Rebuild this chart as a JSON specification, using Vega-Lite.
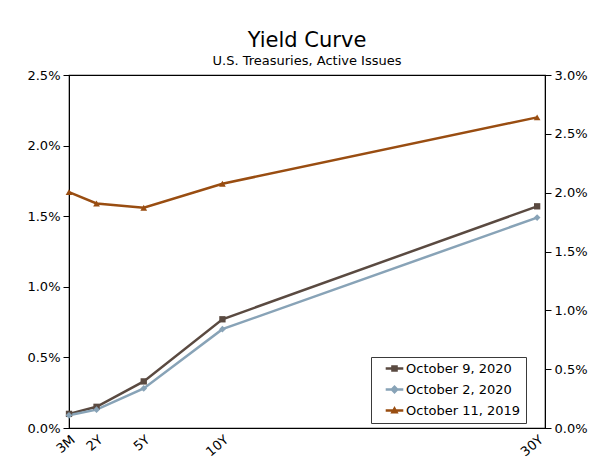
{
  "$schema": "https://vega.github.io/schema/vega-lite/v6.json",
  "autosize": "none",
  "padding": {"left": 69, "top": 75, "right": 55, "bottom": 38},
  "width": 476,
  "height": 353,
  "title": {
    "text": "Yield Curve",
    "subtitle": "U.S. Treasuries, Active Issues",
    "anchor": "middle",
    "font": "DejaVu Sans",
    "fontSize": 21,
    "fontWeight": "normal",
    "color": "#000000",
    "subtitleFont": "DejaVu Sans",
    "subtitleFontSize": 13,
    "subtitleColor": "#000000",
    "subtitlePadding": 4,
    "offset": 1
  },
  "config": {
    "font": "DejaVu Sans",
    "view": {"stroke": "#000000", "strokeWidth": 1.2},
    "axis": {
      "grid": false,
      "domainColor": "#000000",
      "tickColor": "#000000",
      "labelColor": "#000000",
      "labelFont": "DejaVu Sans",
      "labelFontSize": 13,
      "tickSize": 6,
      "title": null
    },
    "legend": {"labelFont": "DejaVu Sans", "labelFontSize": 13, "labelColor": "#000000"}
  },
  "datasets": {
    "yields": [
      {"date": "October 9, 2020", "term": "3M", "years": 0.25, "yield": 0.0010},
      {"date": "October 9, 2020", "term": "2Y", "years": 2, "yield": 0.0015},
      {"date": "October 9, 2020", "term": "5Y", "years": 5, "yield": 0.0033},
      {"date": "October 9, 2020", "term": "10Y", "years": 10, "yield": 0.0077},
      {"date": "October 9, 2020", "term": "30Y", "years": 30, "yield": 0.0157},
      {"date": "October 2, 2020", "term": "3M", "years": 0.25, "yield": 0.0009},
      {"date": "October 2, 2020", "term": "2Y", "years": 2, "yield": 0.0013},
      {"date": "October 2, 2020", "term": "5Y", "years": 5, "yield": 0.0028},
      {"date": "October 2, 2020", "term": "10Y", "years": 10, "yield": 0.0070},
      {"date": "October 2, 2020", "term": "30Y", "years": 30, "yield": 0.0149},
      {"date": "October 11, 2019", "term": "3M", "years": 0.25, "yield": 0.0167},
      {"date": "October 11, 2019", "term": "2Y", "years": 2, "yield": 0.0159},
      {"date": "October 11, 2019", "term": "5Y", "years": 5, "yield": 0.0156},
      {"date": "October 11, 2019", "term": "10Y", "years": 10, "yield": 0.0173},
      {"date": "October 11, 2019", "term": "30Y", "years": 30, "yield": 0.0220}
    ],
    "rightAxis": [{"r": 0}, {"r": 0.03}]
  },
  "layer": [
    {
      "data": {"name": "yields"},
      "encoding": {
        "x": {
          "field": "years",
          "type": "quantitative",
          "scale": {"domain": [0.25, 30.5], "nice": false, "zero": false},
          "axis": {
            "values": [0.25, 2, 5, 10, 30],
            "labelExpr": "datum.value == 0.25 ? '3M' : datum.value + 'Y'",
            "labelAngle": -40,
            "labelAlign": "right",
            "labelBaseline": "top",
            "labelPadding": 5,
            "ticks": false,
            "domain": false
          }
        },
        "y": {
          "field": "yield",
          "type": "quantitative",
          "scale": {"domain": [0, 0.025], "nice": false},
          "axis": {"values": [0, 0.005, 0.01, 0.015, 0.02, 0.025], "format": ".1%", "labelPadding": 3}
        },
        "color": {
          "field": "date",
          "type": "nominal",
          "scale": {
            "domain": ["October 9, 2020", "October 2, 2020", "October 11, 2019"],
            "range": ["#5a4a41", "#88a3b7", "#994d11"]
          },
          "legend": {
            "title": null,
            "orient": "none",
            "legendX": 302,
            "legendY": 282,
            "strokeColor": "#3a3a3a",
            "fillColor": "#ffffff",
            "padding": 5,
            "rowPadding": 7,
            "symbolOffset": 12,
            "labelOffset": 5,
            "symbolSize": 121,
            "symbolStrokeWidth": 0,
            "symbolOpacity": 1,
            "labelExpr": "datum.label + '\u00a0\u00a0\u00a0\u00a0'",
            "encode": {"symbols": {"update": {"fill": {"scale": "color", "field": "value"}, "opacity": {"value": 1}}}}
          }
        }
      },
      "layer": [
        {"mark": {"type": "line", "strokeWidth": 2.5}},
        {
          "transform": [{"filter": "datum.date == 'October 9, 2020'"}],
          "mark": {"type": "point", "filled": true, "opacity": 1, "size": 40, "shape": "square"}
        },
        {
          "transform": [{"filter": "datum.date == 'October 2, 2020'"}],
          "mark": {"type": "point", "filled": true, "opacity": 1, "size": 45, "shape": "diamond"}
        },
        {
          "transform": [{"filter": "datum.date == 'October 11, 2019'"}],
          "mark": {"type": "point", "filled": true, "opacity": 1, "size": 45, "shape": "triangle-up"}
        },
        {
          "mark": {"type": "point", "filled": true, "opacity": 0},
          "encoding": {
            "shape": {
              "field": "date",
              "type": "nominal",
              "scale": {
                "domain": ["October 9, 2020", "October 2, 2020", "October 11, 2019"],
                "range": [
                  "M-1.6,-0.22H1.6V0.22H-1.6Z M-0.6,-0.6H0.6V0.6H-0.6Z",
                  "M-1.6,-0.22H1.6V0.22H-1.6Z M0,-0.8L0.8,0L0,0.8L-0.8,0Z",
                  "M-1.6,-0.22H1.6V0.22H-1.6Z M0,-0.8L0.75,0.55H-0.75Z"
                ]
              },
              "legend": {
                "title": null,
                "orient": "none",
                "legendX": 302,
                "legendY": 282,
                "strokeColor": "#3a3a3a",
                "fillColor": "#ffffff",
                "padding": 5,
                "rowPadding": 7,
                "symbolOffset": 12,
                "labelOffset": 5,
                "symbolSize": 121,
                "symbolStrokeWidth": 0,
                "symbolOpacity": 1,
                "labelExpr": "datum.label + '\u00a0\u00a0\u00a0\u00a0'",
                "encode": {"symbols": {"update": {"fill": {"scale": "color", "field": "value"}, "opacity": {"value": 1}}}}
              }
            }
          }
        }
      ]
    },
    {
      "data": {"name": "rightAxis"},
      "mark": {"type": "point", "opacity": 0},
      "encoding": {
        "y": {
          "field": "r",
          "type": "quantitative",
          "scale": {"domain": [0, 0.03], "nice": false},
          "axis": {"orient": "right", "values": [0, 0.005, 0.01, 0.015, 0.02, 0.025, 0.03], "format": ".1%", "labelPadding": 3}
        }
      }
    }
  ],
  "resolve": {"scale": {"y": "independent"}, "axis": {"y": "independent"}}
}
